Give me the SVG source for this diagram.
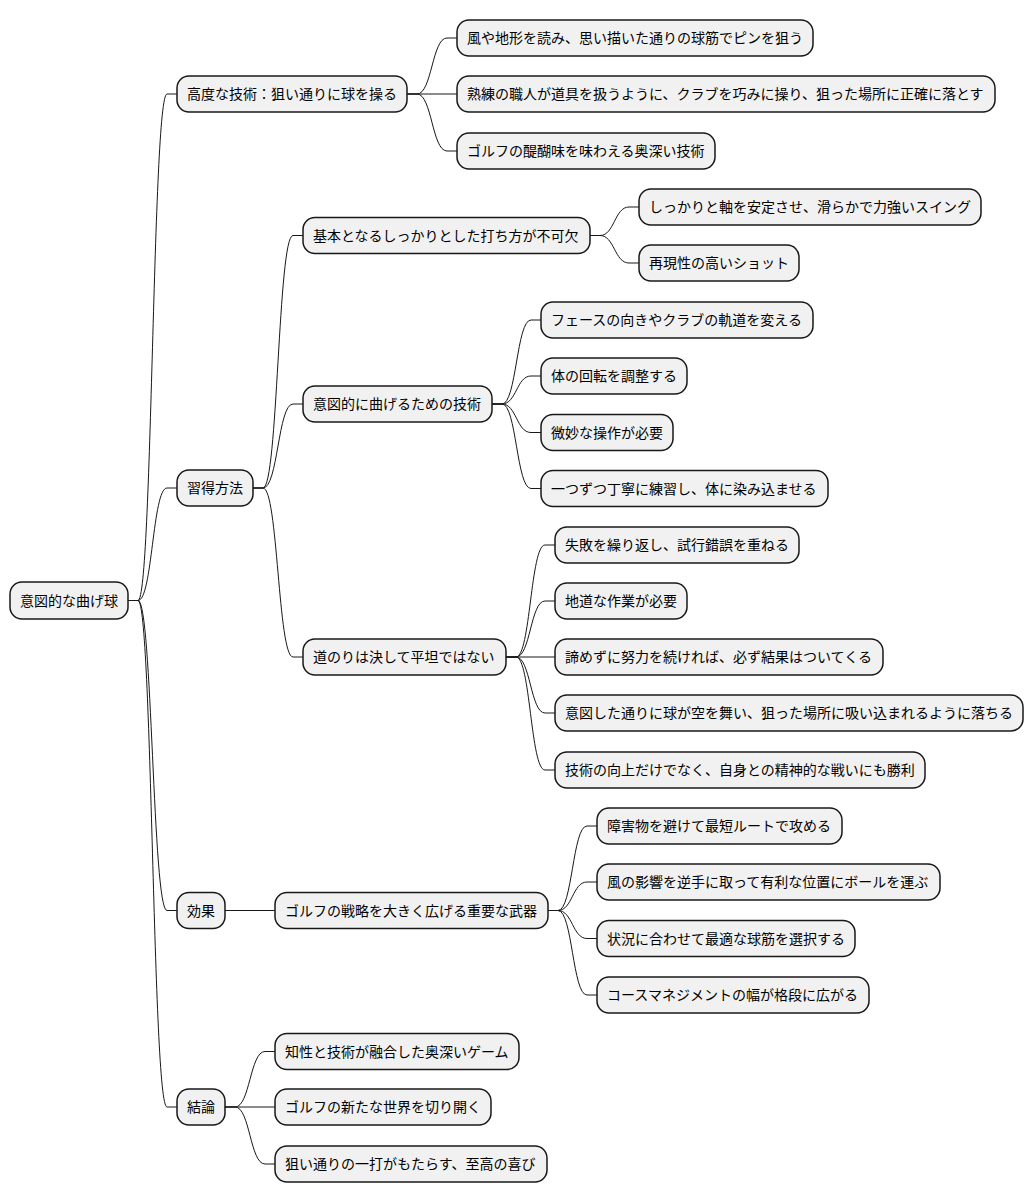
<svg xmlns="http://www.w3.org/2000/svg" width="1034" height="1203" viewBox="0 0 1034 1203">
<style>
.n rect{fill:#F1F1F1;stroke:#181818;stroke-width:1.5}
.n text{font-family:"Noto Sans CJK JP","Noto Sans",sans-serif;font-size:14px;fill:#000}
.e path{fill:none;stroke:#181818;stroke-width:1}
</style>
<rect width="1034" height="1203" fill="#FFFFFF"/>
<g class="e" id="connectors">
<path d="M128,600.5 L138,600.5 C152.5,600.5 152.5,94 167,94 L177,94"/>
<path d="M128,600.5 L138,600.5 C152.5,600.5 152.5,488 167,488 L177,488"/>
<path d="M128,600.5 L138,600.5 C152.5,600.5 152.5,910.5 167,910.5 L177,910.5"/>
<path d="M128,600.5 L138,600.5 C152.5,600.5 152.5,1107 167,1107 L177,1107"/>
<path d="M407,94 L417,94 C432,94 432,38 447,38 L457,38"/>
<path d="M407,94 L457,94"/>
<path d="M407,94 L417,94 C432,94 432,151 447,151 L457,151"/>
<path d="M253,488 L263,488 C278,488 278,235.5 293,235.5 L303,235.5"/>
<path d="M253,488 L263,488 C278,488 278,404 293,404 L303,404"/>
<path d="M253,488 L263,488 C278,488 278,657 293,657 L303,657"/>
<path d="M590,235.5 L600,235.5 C614.5,235.5 614.5,207 629,207 L639,207"/>
<path d="M590,235.5 L600,235.5 C614.5,235.5 614.5,263 629,263 L639,263"/>
<path d="M492,404 L502,404 C516.5,404 516.5,320 531,320 L541,320"/>
<path d="M492,404 L502,404 C516.5,404 516.5,376 531,376 L541,376"/>
<path d="M492,404 L502,404 C516.5,404 516.5,432.5 531,432.5 L541,432.5"/>
<path d="M492,404 L502,404 C516.5,404 516.5,488.5 531,488.5 L541,488.5"/>
<path d="M506,657 L516,657 C530.5,657 530.5,545 545,545 L555,545"/>
<path d="M506,657 L516,657 C530.5,657 530.5,601 545,601 L555,601"/>
<path d="M506,657 L555,657"/>
<path d="M506,657 L516,657 C530.5,657 530.5,713 545,713 L555,713"/>
<path d="M506,657 L516,657 C530.5,657 530.5,770 545,770 L555,770"/>
<path d="M225,910.5 L275,910.5"/>
<path d="M548,910.5 L558,910.5 C572.5,910.5 572.5,826 587,826 L597,826"/>
<path d="M548,910.5 L558,910.5 C572.5,910.5 572.5,882 587,882 L597,882"/>
<path d="M548,910.5 L558,910.5 C572.5,910.5 572.5,938.5 587,938.5 L597,938.5"/>
<path d="M548,910.5 L558,910.5 C572.5,910.5 572.5,995 587,995 L597,995"/>
<path d="M225,1107 L235,1107 C250,1107 250,1051.5 265,1051.5 L275,1051.5"/>
<path d="M225,1107 L275,1107"/>
<path d="M225,1107 L235,1107 C250,1107 250,1164 265,1164 L275,1164"/>
</g>
<g class="n" id="root"><rect x="10" y="582" width="118" height="37" rx="12"/><text x="20" y="605.5">意図的な曲げ球</text></g>
<g class="n" id="n-a"><rect x="177" y="76" width="230" height="36" rx="12"/><text x="187" y="99">高度な技術：狙い通りに球を操る</text></g>
<g class="n" id="n-a1"><rect x="457" y="20" width="356" height="36" rx="12"/><text x="467" y="43">風や地形を読み、思い描いた通りの球筋でピンを狙う</text></g>
<g class="n" id="n-a2"><rect x="457" y="76" width="538" height="36" rx="12"/><text x="467" y="99">熟練の職人が道具を扱うように、クラブを巧みに操り、狙った場所に正確に落とす</text></g>
<g class="n" id="n-a3"><rect x="457" y="133" width="258" height="36" rx="12"/><text x="467" y="156">ゴルフの醍醐味を味わえる奥深い技術</text></g>
<g class="n" id="n-b"><rect x="177" y="470" width="76" height="36" rx="12"/><text x="187" y="493">習得方法</text></g>
<g class="n" id="n-b1"><rect x="303" y="217.5" width="287" height="36" rx="12"/><text x="313" y="240.5">基本となるしっかりとした打ち方が不可欠</text></g>
<g class="n" id="n-b1a"><rect x="639" y="189" width="342" height="36" rx="12"/><text x="649" y="212">しっかりと軸を安定させ、滑らかで力強いスイング</text></g>
<g class="n" id="n-b1b"><rect x="639" y="245" width="160" height="36" rx="12"/><text x="649" y="268">再現性の高いショット</text></g>
<g class="n" id="n-b2"><rect x="303" y="386" width="189" height="36" rx="12"/><text x="313" y="409">意図的に曲げるための技術</text></g>
<g class="n" id="n-b2a"><rect x="541" y="302" width="272" height="36" rx="12"/><text x="551" y="325">フェースの向きやクラブの軌道を変える</text></g>
<g class="n" id="n-b2b"><rect x="541" y="358" width="146" height="36" rx="12"/><text x="551" y="381">体の回転を調整する</text></g>
<g class="n" id="n-b2c"><rect x="541" y="414.5" width="132" height="36" rx="12"/><text x="551" y="437.5">微妙な操作が必要</text></g>
<g class="n" id="n-b2d"><rect x="541" y="470.5" width="287" height="36" rx="12"/><text x="551" y="493.5">一つずつ丁寧に練習し、体に染み込ませる</text></g>
<g class="n" id="n-b3"><rect x="303" y="639" width="203" height="36" rx="12"/><text x="313" y="662">道のりは決して平坦ではない</text></g>
<g class="n" id="n-b3a"><rect x="555" y="527" width="244" height="36" rx="12"/><text x="565" y="550">失敗を繰り返し、試行錯誤を重ねる</text></g>
<g class="n" id="n-b3b"><rect x="555" y="583" width="132" height="36" rx="12"/><text x="565" y="606">地道な作業が必要</text></g>
<g class="n" id="n-b3c"><rect x="555" y="639" width="328" height="36" rx="12"/><text x="565" y="662">諦めずに努力を続ければ、必ず結果はついてくる</text></g>
<g class="n" id="n-b3d"><rect x="555" y="695" width="468" height="36" rx="12"/><text x="565" y="718">意図した通りに球が空を舞い、狙った場所に吸い込まれるように落ちる</text></g>
<g class="n" id="n-b3e"><rect x="555" y="752" width="370" height="36" rx="12"/><text x="565" y="775">技術の向上だけでなく、自身との精神的な戦いにも勝利</text></g>
<g class="n" id="n-c"><rect x="177" y="892.5" width="48" height="36" rx="12"/><text x="187" y="915.5">効果</text></g>
<g class="n" id="n-c1"><rect x="275" y="892.5" width="273" height="36" rx="12"/><text x="285" y="915.5">ゴルフの戦略を大きく広げる重要な武器</text></g>
<g class="n" id="n-c1a"><rect x="597" y="808" width="245" height="36" rx="12"/><text x="607" y="831">障害物を避けて最短ルートで攻める</text></g>
<g class="n" id="n-c1b"><rect x="597" y="864" width="343" height="36" rx="12"/><text x="607" y="887">風の影響を逆手に取って有利な位置にボールを運ぶ</text></g>
<g class="n" id="n-c1c"><rect x="597" y="920.5" width="258" height="36" rx="12"/><text x="607" y="943.5">状況に合わせて最適な球筋を選択する</text></g>
<g class="n" id="n-c1d"><rect x="597" y="977" width="272" height="36" rx="12"/><text x="607" y="1000">コースマネジメントの幅が格段に広がる</text></g>
<g class="n" id="n-d"><rect x="177" y="1089" width="48" height="36" rx="12"/><text x="187" y="1112">結論</text></g>
<g class="n" id="n-d1"><rect x="275" y="1033.5" width="244" height="36" rx="12"/><text x="285" y="1056.5">知性と技術が融合した奥深いゲーム</text></g>
<g class="n" id="n-d2"><rect x="275" y="1089" width="216" height="36" rx="12"/><text x="285" y="1112">ゴルフの新たな世界を切り開く</text></g>
<g class="n" id="n-d3"><rect x="275" y="1146" width="272" height="36" rx="12"/><text x="285" y="1169">狙い通りの一打がもたらす、至高の喜び</text></g>
</svg>
